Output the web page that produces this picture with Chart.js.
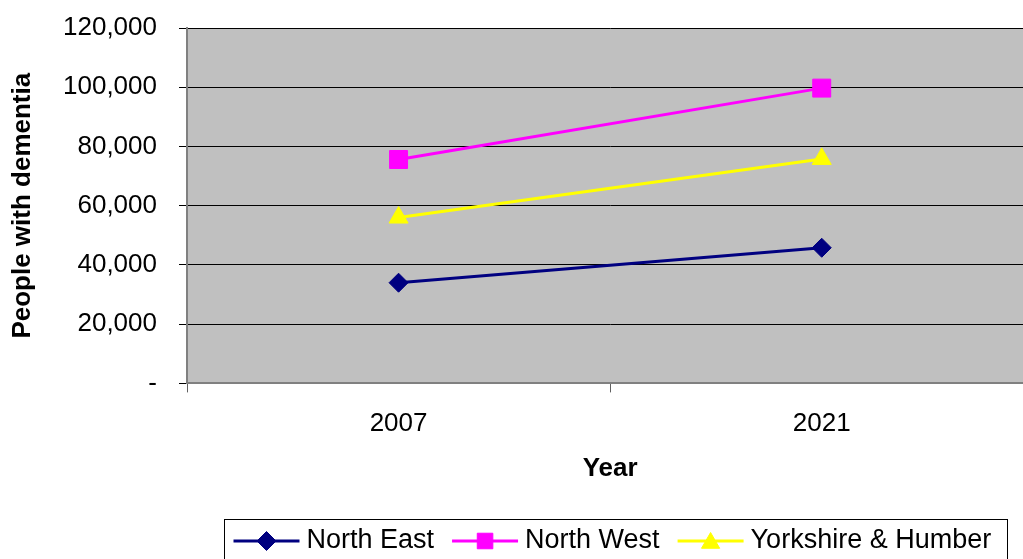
<!DOCTYPE html>
<html>
<head>
<meta charset="utf-8">
<script src="https://cdn.jsdelivr.net/npm/chart.js@4/dist/chart.umd.min.js"></script>
<style>
html,body{margin:0;padding:0;background:#fff;overflow:hidden;}
#wrap{width:1023px;height:559px;overflow:hidden;}
canvas{display:block;}
</style>
</head>
<body>
<div id="wrap"><canvas id="c" width="1047" height="559" style="width:1047px;height:559px"></canvas></div>
<script>
const categories = ['2007', '2021'];
const northEast = [34000, 45800];
const northWest = [75600, 99700];
const yorkshireHumber = [56000, 75800];
const yTickValues = [0, 20000, 40000, 60000, 80000, 100000, 120000];
const yAxisTitle = 'People with dementia';
const xAxisTitle = 'Year';

const FONT = "'Liberation Sans', Arial, sans-serif";

const plotBg = {
  id: 'plotBg',
  beforeDraw(chart) {
    const {ctx, chartArea: a} = chart;
    ctx.save();
    ctx.fillStyle = '#C0C0C0';
    ctx.fillRect(a.left, a.top, a.right - a.left, a.bottom - a.top);
    ctx.restore();
  }
};

const lineLegend = {
  id: 'lineLegend',
  afterDraw(chart) {
    const ctx = chart.ctx;
    const ds = chart.data.datasets;
    ctx.save();
    ctx.font = '27px ' + FONT;
    const lineW = 66, gapText = 7, gapItem = 18, padL = 9, padR = 11;
    const widths = ds.map(d => ctx.measureText(d.label).width);
    let total = padL + padR;
    widths.forEach((w, i) => { total += lineW + gapText + w + (i < ds.length - 1 ? gapItem : 0); });
    const left = 224.5;
    const boxW = Math.max(total, 783);
    const top = 519.5;
    ctx.strokeStyle = '#000';
    ctx.lineWidth = 1;
    ctx.strokeRect(left, top, boxW, 60);
    const cy = 541;
    let x = left + padL;
    ds.forEach((d, i) => {
      ctx.strokeStyle = d.borderColor;
      ctx.lineWidth = 3;
      ctx.beginPath();
      ctx.moveTo(x, cy);
      ctx.lineTo(x + lineW, cy);
      ctx.stroke();
      ctx.fillStyle = d.backgroundColor;
      ctx.strokeStyle = d.backgroundColor;
      ctx.lineWidth = 1;
      const r = d.pointStyle === 'rect' ? 11 : (d.pointStyle === 'triangle' ? 10.5 : 9.5);
      Chart.helpers.drawPoint(ctx, {pointStyle: d.pointStyle, rotation: 0, borderWidth: 1, radius: r},
        x + lineW / 2, cy + (d.pointStyle === 'triangle' ? 2 : 0));
      ctx.fillStyle = '#000';
      ctx.textBaseline = 'middle';
      ctx.textAlign = 'left';
      ctx.fillText(d.label, x + lineW + gapText, cy);
      x += lineW + gapText + widths[i] + gapItem;
    });
    ctx.restore();
  }
};

new Chart(document.getElementById('c'), {
  type: 'line',
  data: {
    labels: categories,
    datasets: [
      {label: 'North East', data: northEast, borderColor: '#000080', backgroundColor: '#000080',
       pointStyle: 'rectRot', pointRadius: 9.5, borderWidth: 3, pointBorderWidth: 1},
      {label: 'North West', data: northWest, borderColor: '#FF00FF', backgroundColor: '#FF00FF',
       pointStyle: 'rect', pointRadius: 12.7, borderWidth: 3, pointBorderWidth: 1},
      {label: 'Yorkshire & Humber', data: yorkshireHumber, borderColor: '#FFFF00', backgroundColor: '#FFFF00',
       pointStyle: 'triangle', pointRadius: 11, borderWidth: 3, pointBorderWidth: 1}
    ]
  },
  options: {
    responsive: false,
    animation: false,
    layout: {padding: {top: 28, left: 0, right: 1, bottom: 75}},
    plugins: {legend: {display: false}, tooltip: {enabled: false}},
    scales: {
      x: {
        offset: true,
        grid: {display: true, drawOnChartArea: false, drawTicks: true, tickLength: 9, tickColor: '#606060', offset: true},
        border: {display: true, color: '#808080', width: 2},
        ticks: {color: '#000', font: {family: FONT, size: 26}, padding: 16},
        title: {display: true, text: xAxisTitle, color: '#000', font: {family: FONT, size: 26, weight: 'bold'}, padding: {top: 0, bottom: 0}},
        afterFit(scale) { scale.height = 100.6; scale.paddingLeft = 0; scale.paddingRight = 0; }
      },
      y: {
        min: 0, max: 120000,
        afterBuildTicks(scale) { scale.ticks = yTickValues.map(v => ({value: v})); },
        grid: {color: '#000', lineWidth: 1, tickLength: 8, tickColor: '#000'},
        border: {display: true, color: '#808080', width: 2},
        ticks: {color: '#000', font: {family: FONT, size: 26}, padding: 22,
          callback: v => v === 0 ? '-' : Number(v).toLocaleString('en-US')},
        title: {display: true, text: yAxisTitle, color: '#000', font: {family: FONT, size: 26, weight: 'bold'}, padding: {top: 7, bottom: 0}},
        afterFit(scale) { scale.width = 187; scale.paddingTop = 0; scale.paddingBottom = 0; }
      }
    }
  },
  plugins: [plotBg, lineLegend]
});
</script>
</body>
</html>
